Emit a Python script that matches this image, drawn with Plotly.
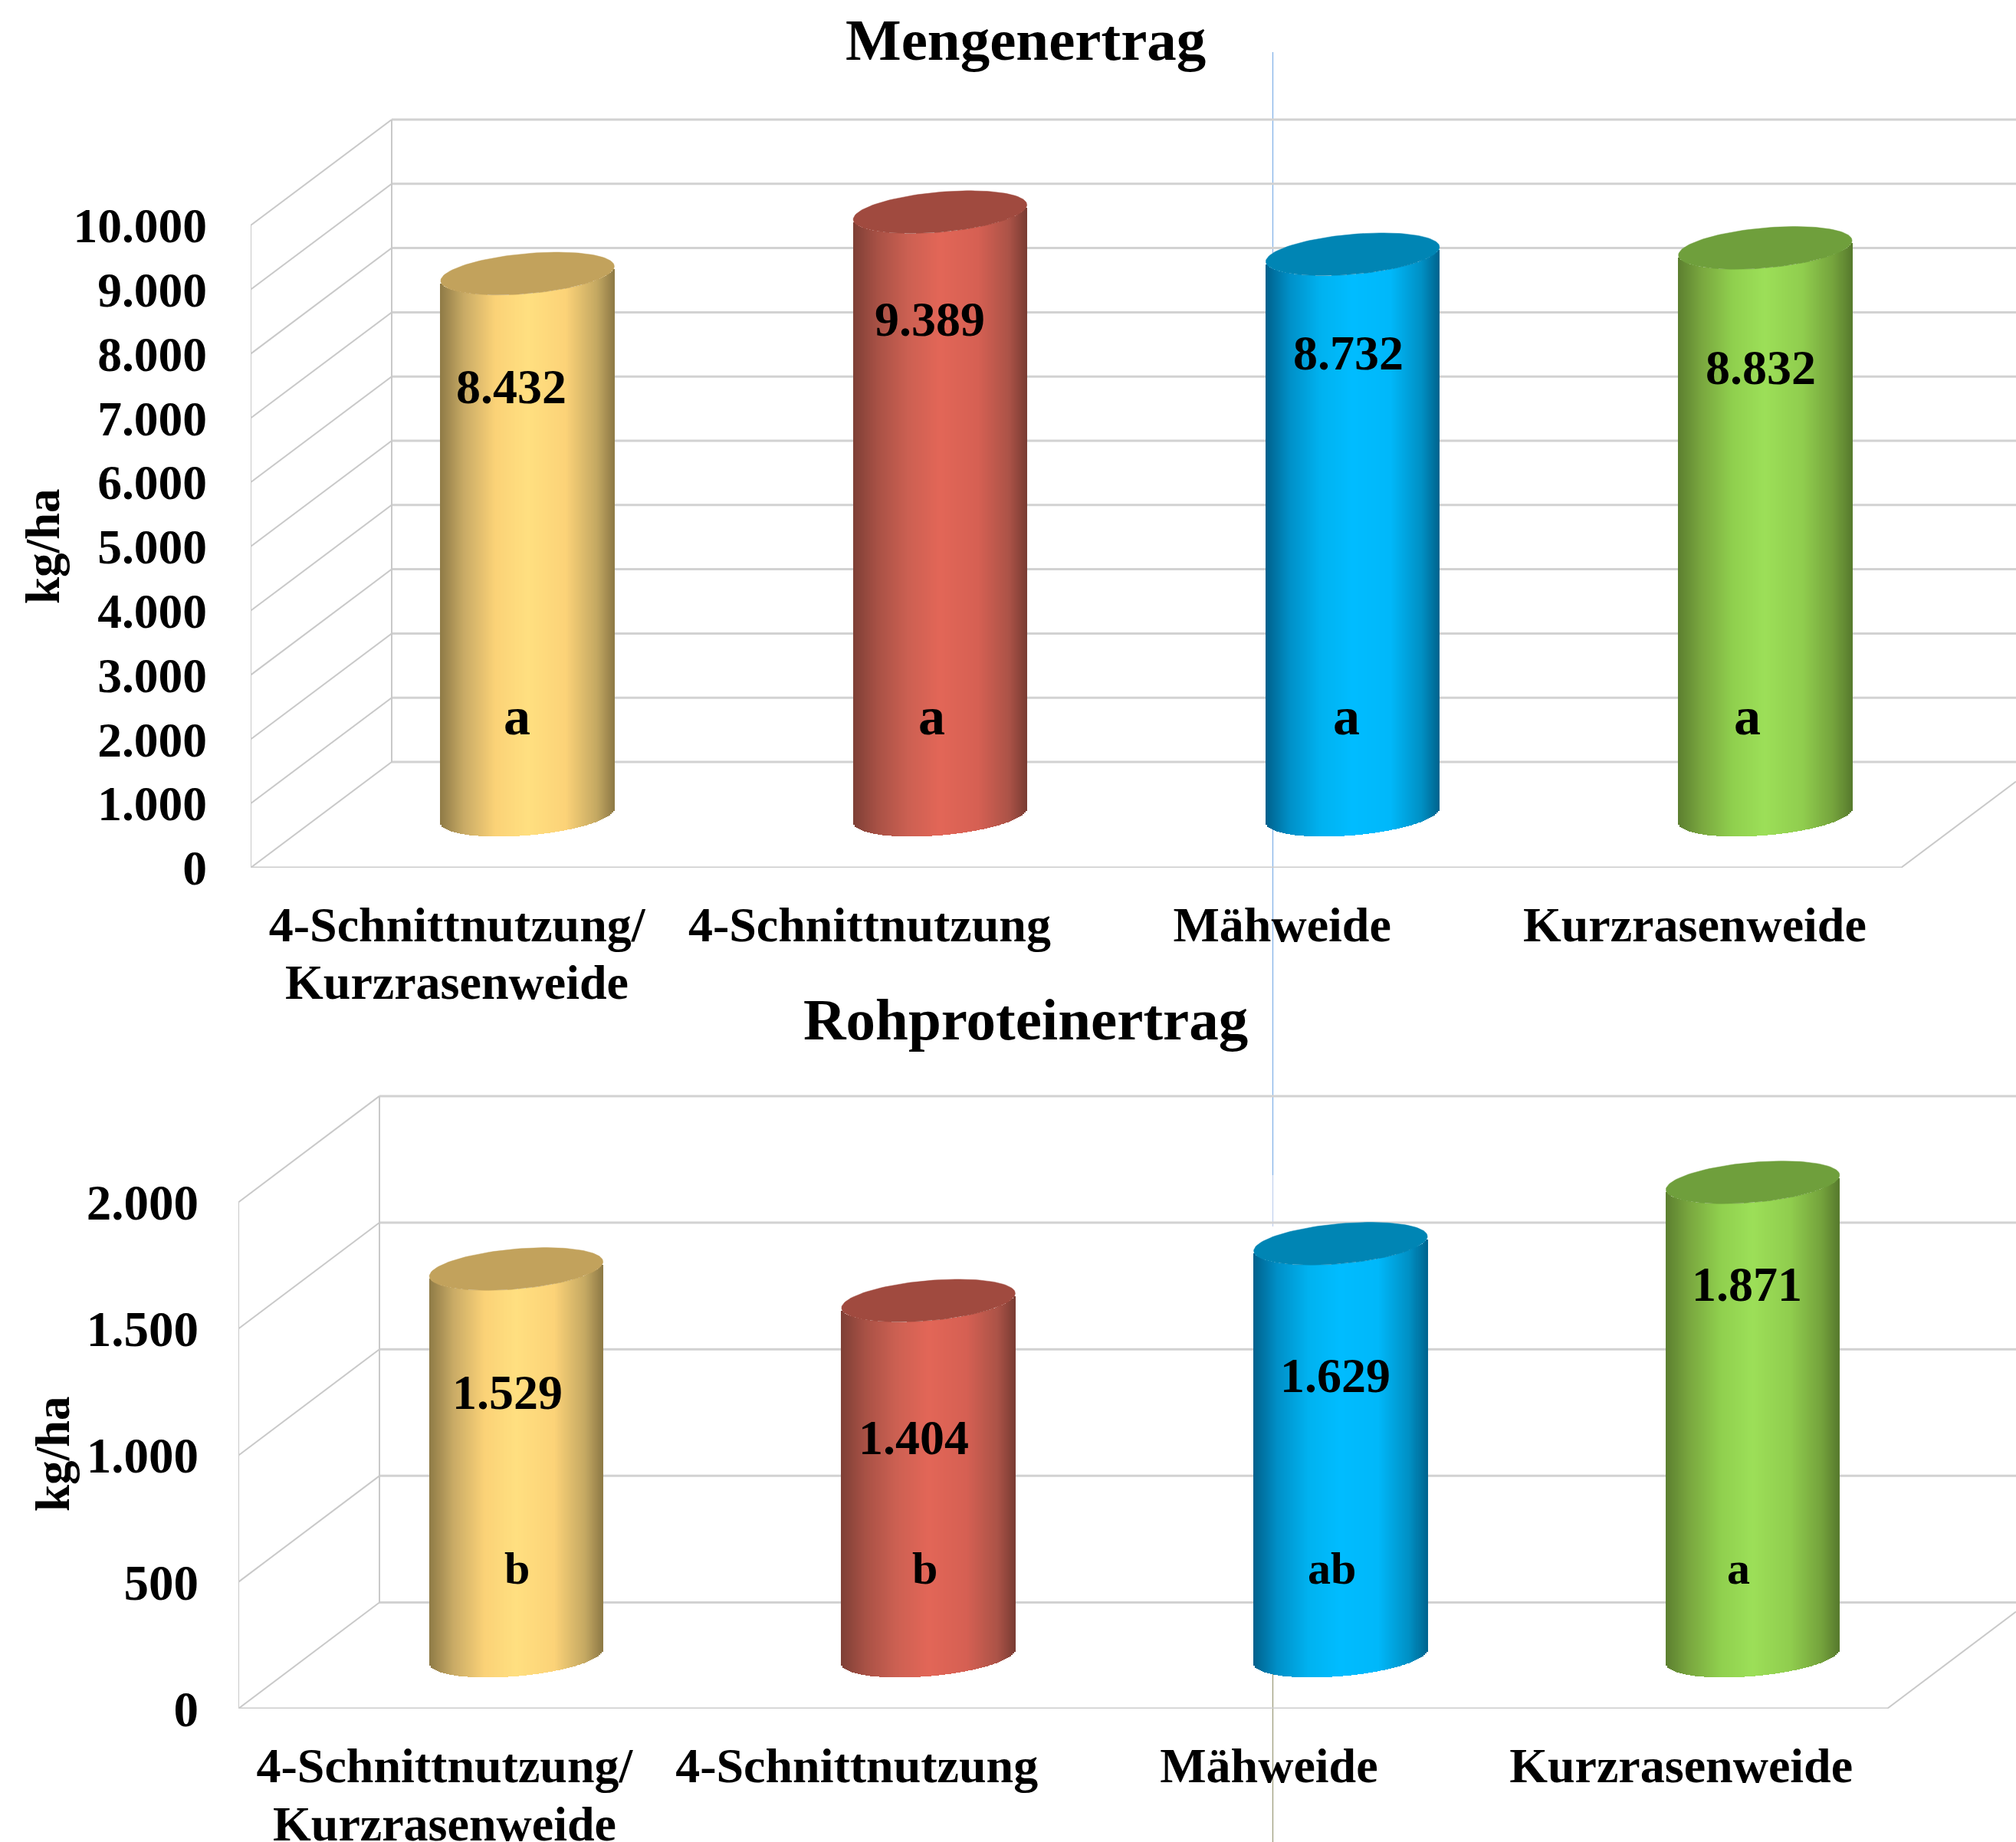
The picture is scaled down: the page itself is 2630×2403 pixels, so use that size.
import numpy as np
import plotly.graph_objects as go

WIDTH, HEIGHT = 2630, 2403
FONT = "Liberation Serif"

# Data
categories_line1 = ["4-Schnittnutzung/", "4-Schnittnutzung", "Mähweide", "Kurzrasenweide"]
categories_line2 = ["Kurzrasenweide", "", "", ""]

mengenertrag = [8432, 9389, 8732, 8832]
mengen_labels = ["8.432", "9.389", "8.732", "8.832"]
mengen_letters = ["a", "a", "a", "a"]
mengen_ticks = [0, 1000, 2000, 3000, 4000, 5000, 6000, 7000, 8000, 9000, 10000]
mengen_ticktext = ["0", "1.000", "2.000", "3.000", "4.000", "5.000", "6.000", "7.000", "8.000", "9.000", "10.000"]

rohprotein = [1529, 1404, 1629, 1871]
rohprotein_labels = ["1.529", "1.404", "1.629", "1.871"]
rohprotein_letters = ["b", "b", "ab", "a"]
rohprotein_ticks = [0, 500, 1000, 1500, 2000]
rohprotein_ticktext = ["0", "500", "1.000", "1.500", "2.000"]

# Cylinder shading, edge to edge across the bar, plus the colour of the lid
stops = [0.0, 0.14, 0.32, 0.50, 0.72, 0.90, 1.0]
palettes = [
    (["#8e7a46", "#c9ab66", "#fbd277", "#ffdf80", "#fcd378", "#c4a862", "#8e7a46"], "#c2a25c"),
    (["#7e3f36", "#a85145", "#cc6052", "#e26657", "#d66053", "#ab5347", "#7a3c33"], "#a04a3f"),
    (["#00618c", "#0090c8", "#00b2f0", "#00bcff", "#00b8fa", "#0090c4", "#00648f"], "#0085b4"),
    (["#5c7f30", "#7aa83f", "#90d04e", "#9cdf58", "#90cd4e", "#74a23c", "#577a2d"], "#6f9f3c"),
]


def hex_rgb(c):
    return np.array([int(c[i:i + 2], 16) for i in (1, 3, 5)], dtype=float)


def shade(colors, t):
    table = np.array([hex_rgb(c) for c in colors])
    return "rgb({:.0f},{:.0f},{:.0f})".format(*[np.interp(t, stops, table[:, k]) for k in range(3)])


def py(px):
    return 1 - px / HEIGHT


def px_x(px):
    return px / WIDTH


panels = [
    dict(suffix="", left=327, right_corner=2480, floor=1132, top=110, per_unit=0.0838, depth_px=138,
         bar_shift_px=0, tick_size=63.5,
         values=mengenertrag, labels=mengen_labels, letters=mengen_letters,
         ticks=mengen_ticks, ticktext=mengen_ticktext, standoff=56,
         value_xy=[(667, 504), (1213, 417), (1759, 461), (2297, 479)],
         letter_xy=[(674, 934), (1215, 934), (1756, 934), (2279, 934)], letter_size=70,
         title="Mengenertrag", title_y=52, unit_xy=(56, 713), cat_y=(1208, 1281)),
    dict(suffix="2", left=311, right_corner=2462, floor=2229, top=1400, per_unit=0.3303, depth_px=138.5,
         bar_shift_px=1.5, tick_size=65,
         values=rohprotein, labels=rohprotein_labels, letters=rohprotein_letters,
         ticks=rohprotein_ticks, ticktext=rohprotein_ticktext, standoff=51,
         value_xy=[(662, 1816), (1192, 1876), (1742, 1794), (2279, 1675)],
         letter_xy=[(674, 2046), (1206, 2046), (1737, 2046), (2268, 2046)], letter_size=60,
         title="Rohproteinertrag", title_y=1330, unit_xy=(69, 1897), cat_y=(2306, 2379)),
]

DEPTH_X_PX = 184
BAR_WIDTH_PX = 226.5
BASE_PX = 68.5
LID_B_PX, LID_K_PX = 26.2, 9.5
STRIP_PX = 2.0

fig = go.Figure()
shapes, annotations = [], []
layout_axes = {}
GRID = "#d2d2d2"
EDGE = "#c9c9c9"

for p in panels:
    sfx = p["suffix"]
    cat_w = (p["right_corner"] - p["left"]) / 4
    x0 = -0.5
    xmax = x0 + (WIDTH - p["left"]) / cat_w
    xc = x0 + (p["right_corner"] - p["left"]) / cat_w
    dx = DEPTH_X_PX / cat_w
    dy = p["depth_px"] / p["per_unit"]
    ytop = (p["floor"] - p["top"]) / p["per_unit"]
    xref, yref = "x" + sfx, "y" + sfx
    tmax = p["ticks"][-1]


    def seg(xa, ya, xb, yb, width, color=GRID):
        shapes.append(dict(type="line", xref=xref, yref=yref, x0=xa, y0=ya, x1=xb, y1=yb,
                           layer="below", line=dict(color=color, width=width)))


    # Back wall, side wall and floor of the box
    for v in p["ticks"]:
        seg(x0 + dx, v + dy, xmax, v + dy, 3)
        seg(x0, v, x0 + dx, v + dy, 2, EDGE)
    seg(x0, 0, x0, tmax, 2, EDGE)
    seg(x0 + dx, dy, x0 + dx, tmax + dy, 2, EDGE)
    seg(x0, 0, xc, 0, 3, "#cccccc")
    seg(xc, 0, xmax, (xmax - xc) / dx * dy, 2, EDGE)

    half_w = BAR_WIDTH_PX / 2 / cat_w
    base = BASE_PX / p["per_unit"]
    lid_b = LID_B_PX / p["per_unit"]
    lid_k = LID_K_PX / p["per_unit"]
    n = int(BAR_WIDTH_PX / STRIP_PX)
    edges = np.linspace(-1, 1, n + 1)
    mids = (edges[:-1] + edges[1:]) / 2
    strip_w = 2 * half_w / n

    for i, (val, (colors, lid)) in enumerate(zip(p["values"], palettes)):
        cx = i + dx / 2 + p["bar_shift_px"] / cat_w
        # Body: narrow strips whose lower end follows the front of the base ellipse
        lower = base + lid_k * mids - lid_b * np.sqrt(1 - mids ** 2)
        fig.add_trace(go.Bar(
            x=cx + mids * half_w, y=[val] * n, base=lower, width=strip_w * 1.6,
            marker=dict(color=[shade(colors, (m + 1) / 2) for m in mids], line=dict(width=0)),
            xaxis=xref, yaxis=yref, showlegend=False, hoverinfo="skip"))
        # Lid ellipse at the height of the value
        t = np.linspace(0, 2 * np.pi, 121)
        fig.add_trace(go.Scatter(
            x=cx + half_w * np.cos(t),
            y=val + base + lid_b * np.sin(t) + lid_k * np.cos(t),
            mode="lines", fill="toself", fillcolor=lid, line=dict(color=lid, width=0.5),
            xaxis=xref, yaxis=yref, showlegend=False, hoverinfo="skip"))

    layout_axes["xaxis" + sfx] = dict(
        domain=[px_x(p["left"]), 1], range=[x0, xmax], anchor=yref, automargin=False,
        tickmode="array", tickvals=[0, 1, 2, 3], ticktext=categories_line1,
        tickfont=dict(family=FONT, size=64, color="black", weight=700),
        showgrid=False, zeroline=False, showline=False, ticks="", ticklabelstandoff=31)
    layout_axes["yaxis" + sfx] = dict(
        domain=[py(p["floor"]), py(p["top"])], range=[0, ytop], anchor=xref, automargin=False,
        tickmode="array", tickvals=p["ticks"], ticktext=p["ticktext"],
        tickfont=dict(family=FONT, size=p["tick_size"], color="black", weight=700),
        showgrid=False, zeroline=False, showline=False, ticks="", ticklabelstandoff=p["standoff"])


    def note(text, x, y, size, **extra):
        annotations.append(dict(text=text, xref="paper", yref="paper", x=px_x(x), y=py(y),
                                xanchor="center", yanchor="middle", showarrow=False,
                                font=dict(family=FONT, size=size, color="black", weight=700), **extra))


    for text, (lx, ly) in zip(p["labels"], p["value_xy"]):
        note(text, lx, ly, 64)
    for text, (lx, ly) in zip(p["letters"], p["letter_xy"]):
        note(text, lx, ly, p["letter_size"])
    note(p["title"], 1338, p["title_y"], 77)
    note("kg/ha", p["unit_xy"][0], p["unit_xy"][1], 63, textangle=-90)
    for i, text in enumerate(categories_line2):
        if text:
            note(text, p["left"] + cat_w * (i + 0.5), p["cat_y"][1], 64)

# Thin vertical hairline running behind the cylinders of the third column
for y_a, y_b, col in [(68, 1533, "#7fb0e6"), (1533, 1600, "#c0d0ee"), (2183, 2403, "#9a9a78")]:
    shapes.append(dict(type="line", xref="paper", yref="paper",
                       x0=px_x(1660.5), x1=px_x(1660.5), y0=py(y_a), y1=py(y_b),
                       layer="below", line=dict(color=col, width=1.2)))

fig.update_layout(
    width=WIDTH, height=HEIGHT, margin=dict(l=0, r=0, t=0, b=0),
    paper_bgcolor="white", plot_bgcolor="rgba(0,0,0,0)",
    barmode="overlay", bargap=0, showlegend=False,
    shapes=shapes, annotations=annotations, **layout_axes)

fig.write_html("out.html")
